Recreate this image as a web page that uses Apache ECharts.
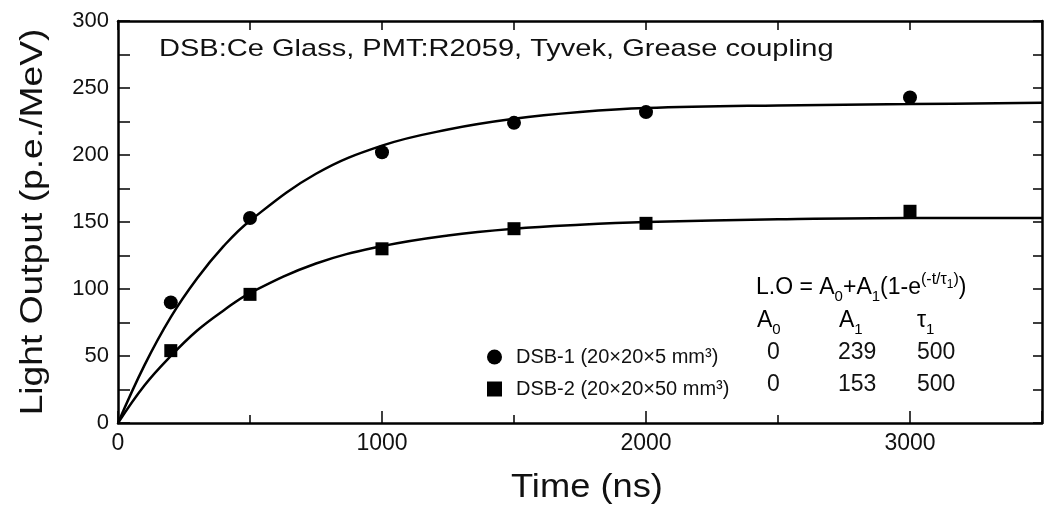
<!DOCTYPE html>
<html>
<head>
<meta charset="utf-8">
<script src="https://cdn.jsdelivr.net/npm/echarts@6/dist/echarts.min.js"></script>
<style>
  html, body { margin: 0; padding: 0; background: #fff; }
  #chart { width: 1053px; height: 509px; }
</style>
</head>
<body>
<div id="chart"></div>
<script>
// measured points
const timeNs = [200, 500, 1000, 1500, 2000, 3000]
const dsb1 = [90, 153, 202, 224, 232, 243]
const dsb2 = [54, 96, 130, 145, 149, 158]

// fit curves
const fitTime = [0, 100, 200, 300, 400, 500, 750, 1000, 1250, 1500, 1750, 2000, 2500, 3000, 3500]
const fit1 = [0, 43, 79, 108, 132, 151, 186, 207, 219, 227, 232, 235, 237, 238, 239]
const fit2 = [0, 28, 50, 69, 84, 97, 119, 132, 140, 145, 148, 150, 152, 153, 153]

const seriesNames = ['DSB-1 (20×20×5 mm³)', 'DSB-2 (20×20×50 mm³)']
const fitA0 = ['0', '0']
const fitA1 = ['239', '153']
const fitTau = ['500', '500']

const FONT = '"Liberation Sans", Arial, sans-serif'
const INK = '#111'

const pairs = (xs, ys) => xs.map((x, i) => [x, ys[i]])

const chart = echarts.init(document.getElementById('chart'))

const subRich = {
  n: { fontSize: 23, fontFamily: FONT, color: INK, lineHeight: 32, verticalAlign: 'middle' },
  sub: { fontSize: 15, fontFamily: FONT, color: INK, verticalAlign: 'bottom', lineHeight: 15 },
  sup: { fontSize: 16, fontFamily: FONT, color: INK, verticalAlign: 'top', lineHeight: 16 },
  sups: { fontSize: 12, fontFamily: FONT, color: INK, verticalAlign: 'top', lineHeight: 20, padding: [7, 0, 0, 0] }
}

const txt = (x, y, text, size, extra) => ({
  type: 'text',
  x: x,
  y: y,
  style: Object.assign({
    text: text,
    font: size + 'px ' + FONT,
    fill: INK,
    verticalAlign: 'middle'
  }, extra || {})
})

const frameLine = { lineStyle: { color: '#000', width: 2.5 }, onZero: false }
const tickStyle = { color: '#000', width: 1.5 }

const option = {
  animation: false,
  grid: { left: 118, right: 11, top: 21, bottom: 86 },
  legend: {
    orient: 'vertical',
    left: 482,
    top: 342,
    itemWidth: 15,
    itemHeight: 15,
    itemGap: 12,
    data: [
      { name: seriesNames[0], icon: 'circle' },
      { name: seriesNames[1], icon: 'rect' }
    ],
    textStyle: { fontSize: 20, fontFamily: FONT, color: INK, padding: [0, 0, 0, 9] }
  },
  xAxis: [
    {
      type: 'value', position: 'bottom', min: 0, max: 3500, interval: 1000,
      axisLine: frameLine,
      axisTick: { inside: true, length: 12, lineStyle: tickStyle },
      minorTick: { show: true, splitNumber: 2, length: 8, lineStyle: tickStyle },
      axisLabel: {
        fontSize: 23, fontFamily: FONT, color: INK, margin: 9,
        formatter: v => (v % 1000 === 0 ? String(v) : '')
      },
      splitLine: { show: false }
    },
    {
      type: 'value', position: 'top', min: 0, max: 3500, interval: 500,
      axisLine: frameLine,
      axisTick: { inside: true, length: 9, lineStyle: tickStyle },
      axisLabel: { show: false },
      splitLine: { show: false }
    }
  ],
  yAxis: [
    {
      type: 'value', position: 'left', min: 0, max: 300, interval: 25,
      axisLine: frameLine,
      axisTick: { inside: true, length: 12, lineStyle: tickStyle },
      axisLabel: {
        fontSize: 22, fontFamily: FONT, color: INK, margin: 9,
        formatter: v => (v % 50 === 0 ? String(v) : '')
      },
      splitLine: { show: false }
    },
    {
      type: 'value', position: 'right', min: 0, max: 300, interval: 25,
      axisLine: frameLine,
      axisTick: { inside: true, length: 9, lineStyle: tickStyle },
      axisLabel: { show: false },
      splitLine: { show: false }
    }
  ],
  series: [
    {
      type: 'line', name: 'fit1', data: pairs(fitTime, fit1), smooth: 0.4,
      showSymbol: false, lineStyle: { color: '#000', width: 2.5 }, z: 2, silent: true
    },
    {
      type: 'line', name: 'fit2', data: pairs(fitTime, fit2), smooth: 0.4,
      showSymbol: false, lineStyle: { color: '#000', width: 2.5 }, z: 2, silent: true
    },
    {
      type: 'scatter', name: seriesNames[0], data: pairs(timeNs, dsb1),
      symbol: 'circle', symbolSize: 14, itemStyle: { color: '#000', opacity: 1 }, z: 3
    },
    {
      type: 'scatter', name: seriesNames[1], data: pairs(timeNs, dsb2),
      symbol: 'rect', symbolSize: 13, itemStyle: { color: '#000', opacity: 1 }, z: 3
    }
  ],
  graphic: [
    // title inside the frame
    txt(159, 49, 'DSB:Ce Glass, PMT:R2059, Tyvek, Grease coupling', 24, {}),
    // axis names
    {
      type: 'text', x: 33, y: 222, rotation: Math.PI / 2, scaleX: 1.2,
      style: { text: 'Light Output (p.e./MeV)', font: '31px ' + FONT, fill: INK, align: 'center', verticalAlign: 'middle' }
    },
    {
      type: 'text', x: 587, y: 488, scaleX: 1.1,
      style: { text: 'Time (ns)', font: '33px ' + FONT, fill: INK, align: 'center', verticalAlign: 'middle' }
    },
    // fit table
    {
      type: 'text', x: 756, y: 288,
      style: {
        text: '{n|L.O = A}{sub|0}{n|+A}{sub|1}{n|(1-e}{sup|(-t/τ}{sups|1}{sup|)}{n|)}',
        rich: subRich, verticalAlign: 'middle'
      }
    },
    { type: 'text', x: 757, y: 321, style: { text: '{n|A}{sub|0}', rich: subRich, verticalAlign: 'middle' } },
    { type: 'text', x: 839, y: 321, style: { text: '{n|A}{sub|1}', rich: subRich, verticalAlign: 'middle' } },
    { type: 'text', x: 917, y: 321, style: { text: '{n|τ}{sub|1}', rich: subRich, verticalAlign: 'middle' } },
    txt(767, 353, fitA0[0], 23), txt(838, 353, fitA1[0], 23), txt(917, 353, fitTau[0], 23),
    txt(767, 385, fitA0[1], 23), txt(838, 385, fitA1[1], 23), txt(917, 385, fitTau[1], 23)
  ]
}
// stretch the title the way the original lettering is stretched
option.graphic[0].scaleX = 1.21

chart.setOption(option)
window.addEventListener('resize', () => chart.resize())
</script>
</body>
</html>
